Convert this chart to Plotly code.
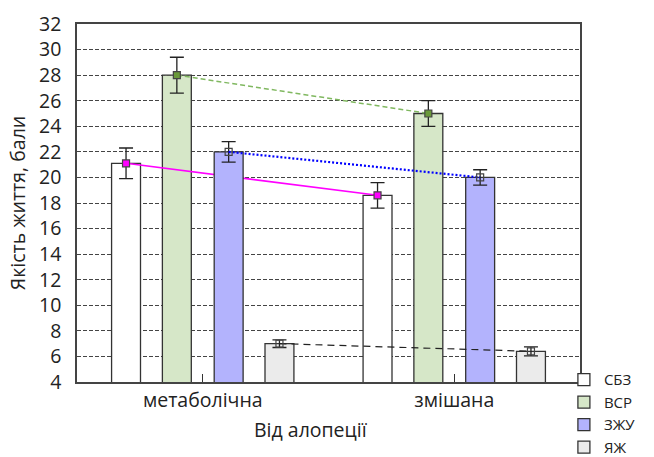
import plotly.graph_objects as go

# Quality-of-life scores by alopecia type, four questionnaire scales
categories = ["метаболічна", "змішана"]
series = ["СБЗ", "ВСР", "ЗЖУ", "ЯЖ"]

sbz_mean = [21.1, 18.6]
sbz_err = [1.2, 1.0]
vsr_mean = [28.0, 25.0]
vsr_err = [1.4, 1.0]
zzhu_mean = [22.0, 20.0]
zzhu_err = [0.8, 0.6]
yazh_mean = [7.0, 6.4]
yazh_err = [0.3, 0.35]

y_ticks = list(range(4, 33, 2))

means = [sbz_mean, vsr_mean, zzhu_mean, yazh_mean]
errs = [sbz_err, vsr_err, zzhu_err, yazh_err]

# styling per series
bar_fill = ["#ffffff", "#d6e7c8", "#b3b3fd", "#ebebeb"]
mark_fill = ["#ff00ff", "#6a9a3a", "rgba(0,0,0,0)", "rgba(0,0,0,0)"]
line_col = ["#ff00ff", "#80b860", "#0000ff", "#222222"]
line_dash = ["solid", "5px,3px", "2px,2px", "7px,5px"]
line_w = [1.5, 1.5, 2.2, 1.2]
offsets = [-0.305, -0.103, 0.103, 0.305]
bar_w = 0.115
# the last two series sit on an overlay layer so they cover earlier lines
layer = ["", "", "2", "2"]

FONT = "Open Sans"
FS = 19.5
fig = go.Figure()

for i, name in enumerate(series):
    xs = [g + offsets[i] for g in range(len(categories))]
    fig.add_trace(go.Bar(
        x=xs, y=means[i], width=bar_w, name=name,
        marker=dict(color=bar_fill[i], line=dict(color="#333333", width=1.3)),
        xaxis="x" + layer[i], yaxis="y" + layer[i],
        showlegend=True,
    ))

for i, name in enumerate(series):
    xs = [g + offsets[i] for g in range(len(categories))]
    fig.add_trace(go.Scatter(
        x=xs, y=means[i], mode="lines+markers", showlegend=False,
        line=dict(color=line_col[i], dash=line_dash[i], width=line_w[i]),
        marker=dict(symbol="square", size=7, color=mark_fill[i],
                    line=dict(color="#444444", width=1.2)),
        error_y=dict(type="data", array=errs[i], visible=True,
                     color="#222222", thickness=1.3, width=7),
        xaxis="x" + layer[i], yaxis="y" + layer[i],
    ))

xr = [-0.5, 1.5]
yr = [4, 32]

fig.update_layout(
    width=654, height=457,
    margin=dict(l=77, r=74, t=24, b=75, autoexpand=False),
    paper_bgcolor="white", plot_bgcolor="white",
    font=dict(family=FONT, size=FS, color="#222222"),
    barmode="overlay",
    xaxis=dict(
        range=xr, tickvals=list(range(len(categories))), ticktext=categories,
        ticks="inside", ticklen=8, tickcolor="#333333", tickwidth=1.2,
        showgrid=False, zeroline=False,
        showline=True, mirror=True, linecolor="#444444", linewidth=1.5,
        tickfont=dict(size=FS),
    ),
    yaxis=dict(
        range=yr, tickvals=y_ticks, ticks="", ticklabelstandoff=10,
        showgrid=True, gridcolor="#444444", gridwidth=1, griddash="4px,2px",
        zeroline=False,
        showline=True, mirror=True, linecolor="#444444", linewidth=1.5,
        title=dict(text="Якість життя, бали", standoff=8, font=dict(size=FS)),
        tickfont=dict(size=FS),
    ),
    xaxis2=dict(range=xr, overlaying="x", visible=False),
    yaxis2=dict(range=yr, overlaying="y", visible=False),
    legend=dict(
        x=0.968, y=0.052, xanchor="left", yanchor="top",
        font=dict(size=15), bgcolor="rgba(0,0,0,0)",
        tracegroupgap=0,
    ),
    annotations=[dict(
        text="Від алопеції", xref="paper", yref="paper",
        x=0.465, y=-0.134, xanchor="center", yanchor="middle",
        showarrow=False, font=dict(size=FS),
    )],
)

fig.write_html("out.html")
